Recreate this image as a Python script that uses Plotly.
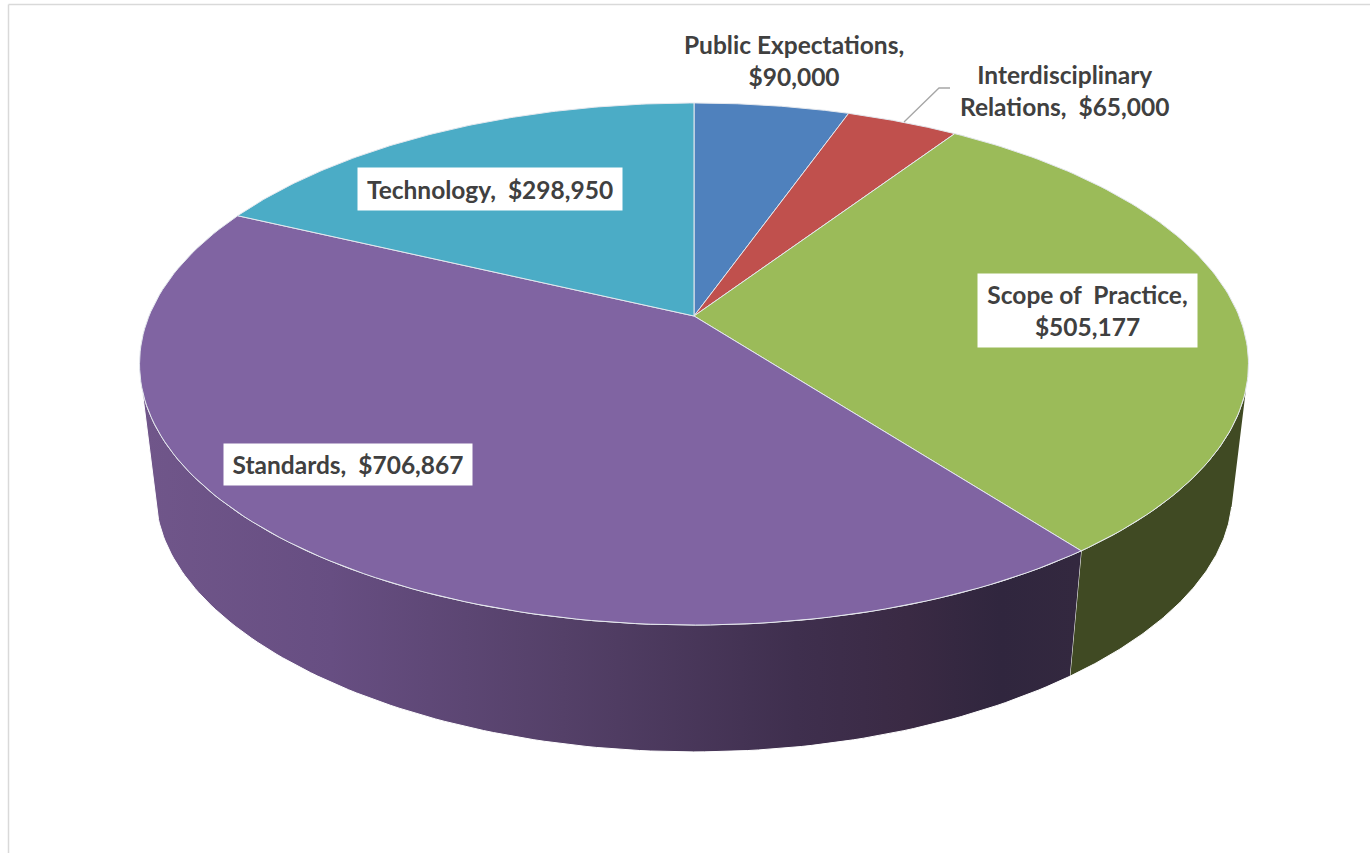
import numpy as np
import plotly.graph_objects as go

names = ["Public Expectations", "Interdisciplinary Relations", "Scope of  Practice", "Standards", "Technology"]
values = [90000, 65000, 505177, 706867, 298950]
top_colors = ["#4F81BD", "#C0504D", "#9BBB59", "#8064A2", "#4BACC6"]
label_texts = [
    f"Public Expectations,<br>${values[0]:,}",
    f"Interdisciplinary<br>Relations,  ${values[1]:,}",
    f"Scope of  Practice,<br>${values[2]:,}",
    f"Standards,  ${values[3]:,}",
    f"Technology,  ${values[4]:,}",
]

# Perspective model of the pie's top face and of its lower rim (page pixels)
CX, CY = 694.0, 316.0
TOP_A, TOP_B, TOP_K = 545.0, 252.2, 0.1839
LOW_A, LOW_YK, LOW_Y0, LOW_B = 529.0, 0.23, 450.6, 232.0


def top_xy(theta_deg):
    t = np.radians(theta_deg)
    x, y = np.sin(t), np.cos(t)
    d = 1 + TOP_K * y
    return CX + TOP_A * x / d, CY - TOP_B * y / d


def low_xy(theta_deg):
    t = np.radians(theta_deg)
    x, y = np.sin(t), np.cos(t)
    return CX + LOW_A * x / (1 + TOP_K * y), LOW_Y0 - LOW_B * y / (1 + LOW_YK * y)


total = sum(values)
edges = np.concatenate([[0], np.cumsum(values) / total * 360])

fig = go.Figure()

# Side walls: visible part runs from the right silhouette to the left silhouette
def wall(a0_top, a0_low, a1_top, a1_low, **style):
    tx, ty = top_xy(np.linspace(a0_top, a1_top, 120))
    lx, ly = low_xy(np.linspace(a1_low, a0_low, 120))
    fig.add_trace(go.Scatter(
        x=np.concatenate([tx, lx]), y=np.concatenate([ty, ly]),
        mode="lines", fill="toself", hoverinfo="skip",
        line=dict(color="white", width=1), **style))


split = edges[3]
wall(105.7, 103.3, split, split, fillcolor="#404A23")
wall(split, split, 254.3, 256.7, fillgradient=dict(
    type="horizontal", start=145, stop=1075,
    colorscale=[[0, "#70568A"], [0.2, "#674E82"], [0.45, "#544068"],
                [0.7, "#3F2F4E"], [0.82, "#3A2A44"], [0.92, "#30263E"], [1, "#33283F"]]))

# Top face
for i, (name, value) in enumerate(zip(names, values)):
    px, py = top_xy(np.linspace(edges[i], edges[i + 1], 120))
    fig.add_trace(go.Scatter(
        x=np.concatenate([[CX], px, [CX]]), y=np.concatenate([[CY], py, [CY]]),
        mode="lines", fill="toself", fillcolor=top_colors[i],
        line=dict(color="#E4E8EE", width=1), name=name,
        text=f"{name}, ${value:,}", hoverinfo="text"))

# Leader line of the Interdisciplinary label
fig.add_trace(go.Scatter(x=[904, 939, 950], y=[122, 88, 88], mode="lines",
                         line=dict(color="#A6A6A6", width=1.3), hoverinfo="skip"))

font = dict(family="Lato", size=24.5, color="#404040", weight="bold")
boxes = [
    (794, 60, None, None, None),
    (1064, 90, None, None, None),
    (1087.5, 310.5, 219, 73, "white"),
    (348, 464.5, 248, 41, "white"),
    (490, 189, 264, 42, "white"),
]
for text, (x, y, w, h, bg) in zip(label_texts, boxes):
    kw = dict(width=w, height=h, bgcolor=bg) if bg else {}
    fig.add_annotation(x=x, y=y, text=text, showarrow=False, font=font,
                       align="center", valign="middle", borderpad=0, **kw)

# Chart frame
frame = dict(color="#D9D9D9", width=1.5)
fig.add_shape(type="line", x0=8.5, x1=8.5, y0=4.5, y1=853, line=frame)
fig.add_shape(type="line", x0=8.5, x1=1370, y0=4.5, y1=4.5, line=frame)

fig.update_layout(
    width=1370, height=853, margin=dict(l=0, r=0, t=0, b=0),
    paper_bgcolor="white", plot_bgcolor="white", showlegend=False,
    xaxis=dict(range=[0, 1370], visible=False, fixedrange=True),
    yaxis=dict(range=[853, 0], visible=False, fixedrange=True),
)
fig.write_html("out.html", config=dict(displayModeBar=False),
               post_script="document.body.style.margin='0';document.documentElement.style.overflow='hidden';")
